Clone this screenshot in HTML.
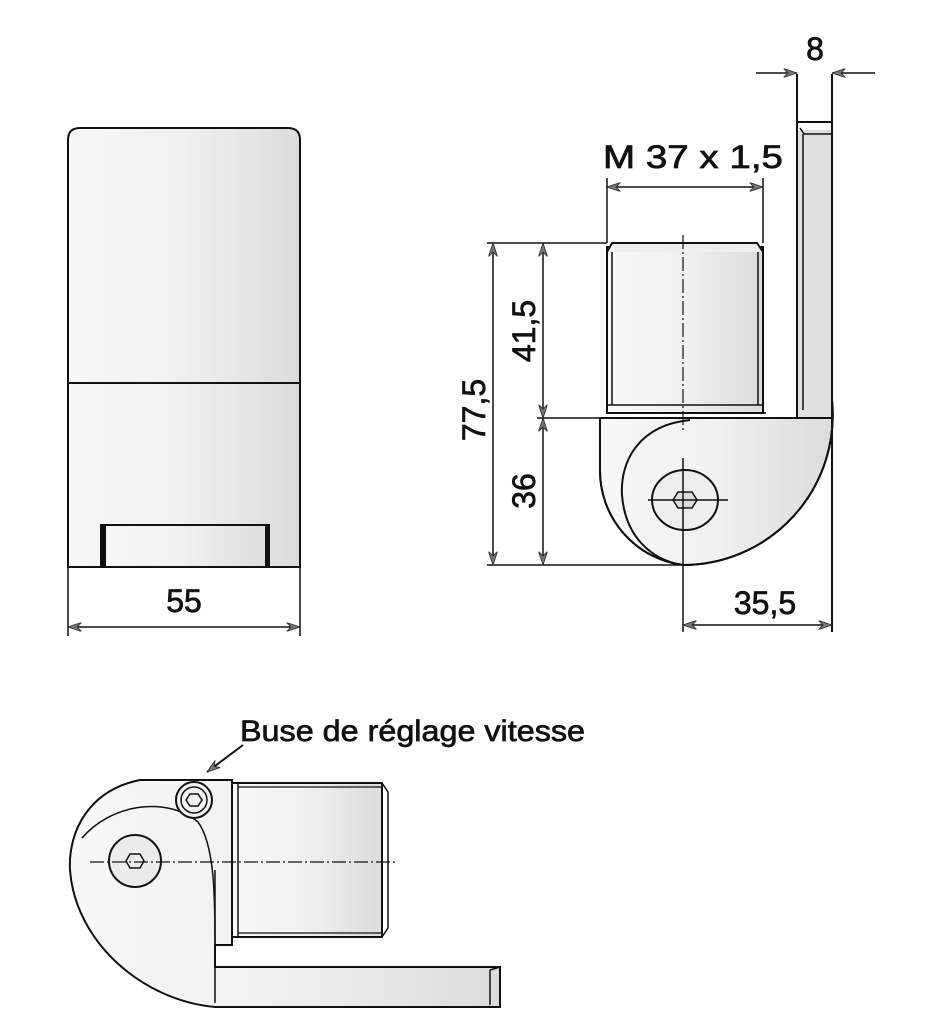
<!DOCTYPE html>
<html><head><meta charset="utf-8"><style>
html,body{margin:0;padding:0;background:#fff}
svg{display:block}
text{font-family:"Liberation Sans",sans-serif;fill:#111;stroke:#111;stroke-width:0.7}
</style></head><body>
<svg width="925" height="1024" viewBox="0 0 925 1024" xmlns="http://www.w3.org/2000/svg">
<defs>
<linearGradient id="g" x1="0" x2="1" y1="0" y2="0">
<stop offset="0" stop-color="#f8f8f8"/><stop offset="0.5" stop-color="#f0f0f0"/><stop offset="1" stop-color="#dcdcdc"/>
</linearGradient>
<marker id="a" viewBox="0 0 12 8" refX="12" refY="4" markerWidth="14" markerHeight="9" orient="auto-start-reverse" markerUnits="userSpaceOnUse">
<path d="M0,0 L12,4 L0,8 L4,4 Z" fill="#777" stroke="#333" stroke-width="0.8"/>
</marker>
</defs>
<g stroke="#111" stroke-width="2" fill="none">
<!-- Left view -->
<path d="M68,567 L68,140 Q68,128 80,128 L288,128 Q300,128 300,140 L300,567 Z" fill="url(#g)"/>
<line x1="68" y1="383" x2="300" y2="383"/>
<rect x="101" y="525" width="168" height="42" fill="url(#g)"/>
<line x1="104" y1="525" x2="104" y2="567" stroke-width="4"/>
<line x1="267" y1="525" x2="267" y2="567" stroke-width="4"/>
<line x1="68" y1="567" x2="68" y2="636" stroke-width="1.5"/>
<line x1="300" y1="567" x2="300" y2="636" stroke-width="1.5"/>
<line x1="68" y1="627" x2="300" y2="627" stroke-width="1.5" marker-start="url(#a)" marker-end="url(#a)"/>

<!-- Right view -->
<path d="M600,418 L832,418 L832,130 L797,130 L797,418" fill="url(#g)" stroke="none"/>
<path d="M600,418 L600,470 A95,95 0 0 0 683,565 A150,150 0 0 0 832,400 L832,418 Z" fill="url(#g)"/>
<path d="M600,418 L600,470 A95,95 0 0 0 683,565 A150,150 0 0 0 832,400"/>
<rect x="797" y="74" width="35" height="48" fill="#fff" stroke="none"/>
<line x1="797" y1="74" x2="797" y2="418"/>
<line x1="832" y1="74" x2="832" y2="632"/>
<line x1="797" y1="122" x2="832" y2="122"/>
<path d="M800,128 L804,134 L832,134" stroke-width="1.5"/>
<line x1="803" y1="134" x2="803" y2="410" stroke-width="1.5"/>
<line x1="600" y1="418" x2="803" y2="418"/>
<path d="M690,420 C640,425 620,460 622,495 C625,535 650,560 683,565" stroke-width="2"/>
<!-- thread -->
<rect x="607" y="247" width="156" height="166" fill="url(#g)"/>
<path d="M607,252 L612,243 L757,243 L763,252" fill="#eee"/>
<line x1="612" y1="252" x2="612" y2="405" stroke-width="1.5"/>
<line x1="758" y1="252" x2="758" y2="405" stroke-width="1.5"/>
<line x1="607" y1="405" x2="763" y2="405" stroke-width="1.5"/>
<line x1="607" y1="413" x2="766" y2="413" stroke-width="1.5"/>
<line x1="683" y1="235" x2="683" y2="432" stroke-width="1.2" stroke-dasharray="14,3,2,3"/>
<ellipse cx="685" cy="500" rx="33" ry="30" fill="#eee"/>
<polygon points="678,492 692,492 697,500 692,508 678,508 673,500" fill="#ddd" stroke-width="1.5"/>
<line x1="648" y1="500" x2="728" y2="500" stroke-width="1.5"/>
<line x1="683" y1="458" x2="683" y2="632" stroke-width="1.5"/>
<!-- dims right -->
<line x1="487" y1="243" x2="607" y2="243" stroke-width="1.5"/>
<line x1="537" y1="418" x2="600" y2="418" stroke-width="1.5"/>
<line x1="487" y1="565" x2="683" y2="565" stroke-width="1.5"/>
<line x1="493" y1="243" x2="493" y2="565" stroke-width="1.5" marker-start="url(#a)" marker-end="url(#a)"/>
<line x1="543" y1="243" x2="543" y2="418" stroke-width="1.5" marker-start="url(#a)" marker-end="url(#a)"/>
<line x1="543" y1="418" x2="543" y2="565" stroke-width="1.5" marker-start="url(#a)" marker-end="url(#a)"/>
<line x1="683" y1="625" x2="832" y2="625" stroke-width="1.5" marker-start="url(#a)" marker-end="url(#a)"/>
<line x1="607" y1="178" x2="607" y2="243" stroke-width="1.5"/>
<line x1="763" y1="178" x2="763" y2="243" stroke-width="1.5"/>
<line x1="607" y1="187" x2="763" y2="187" stroke-width="1.5" marker-start="url(#a)" marker-end="url(#a)"/>
<line x1="756" y1="73" x2="797" y2="73" stroke-width="1.5" marker-end="url(#a)"/>
<line x1="875" y1="73" x2="832" y2="73" stroke-width="1.5" marker-end="url(#a)"/>

<!-- Bottom view -->
<path d="M215,1007 L500,1007 L500,967 L215,967 L215,945 L232,945 L232,780 L140,780 C90,790 68,830 70,870 C75,940 140,1000 215,1007 Z" fill="url(#g)"/>
<path d="M82,838 C110,805 165,795 198,822 C215,845 215,900 215,945" stroke-width="1.5"/>
<line x1="215" y1="870" x2="215" y2="1003" stroke-width="1.5"/>
<line x1="490" y1="970" x2="490" y2="1005" stroke-width="1.5"/>
<line x1="490" y1="970" x2="500" y2="967" stroke-width="1.5"/>
<rect x="232" y="783" width="150" height="154" fill="url(#g)"/>
<line x1="238" y1="783" x2="238" y2="937" stroke-width="1.5"/>
<line x1="238" y1="787" x2="382" y2="787" stroke-width="1.2"/>
<line x1="238" y1="933" x2="382" y2="933" stroke-width="1.2"/>
<path d="M382,783 L388,792 L388,928 L382,937" stroke-width="1.5"/>
<circle cx="194" cy="800" r="18" fill="#f2f2f2"/>
<circle cx="194" cy="800" r="13" stroke-width="1.5"/>
<polygon points="190,794 198,794 202,800 198,806 190,806 186,800" stroke-width="1.5"/>
<circle cx="135" cy="861" r="26" fill="#ececec"/>
<polygon points="130,854 140,854 144,861 140,868 130,868 126,861" stroke-width="1.5"/>
<line x1="90" y1="862" x2="398" y2="862" stroke-width="1.2" stroke-dasharray="14,3,2,3"/>
<line x1="243" y1="745" x2="207" y2="772" stroke-width="2" marker-end="url(#a)"/>
</g>
<text x="184" y="612" font-size="32" text-anchor="middle">55</text>
<text x="603" y="168" font-size="32" textLength="180" lengthAdjust="spacingAndGlyphs">M 37 x 1,5</text>
<text x="815" y="60" font-size="32" text-anchor="middle">8</text>
<text x="765" y="614" font-size="32" text-anchor="middle">35,5</text>
<text transform="translate(485,410) rotate(-90)" font-size="32" text-anchor="middle">77,5</text>
<text transform="translate(535,331) rotate(-90)" font-size="32" text-anchor="middle">41,5</text>
<text transform="translate(535,491) rotate(-90)" font-size="32" text-anchor="middle">36</text>
<text x="240" y="741" font-size="30" textLength="345" lengthAdjust="spacingAndGlyphs" stroke-width="0.4">Buse de réglage vitesse</text>
</svg>
</body></html>
